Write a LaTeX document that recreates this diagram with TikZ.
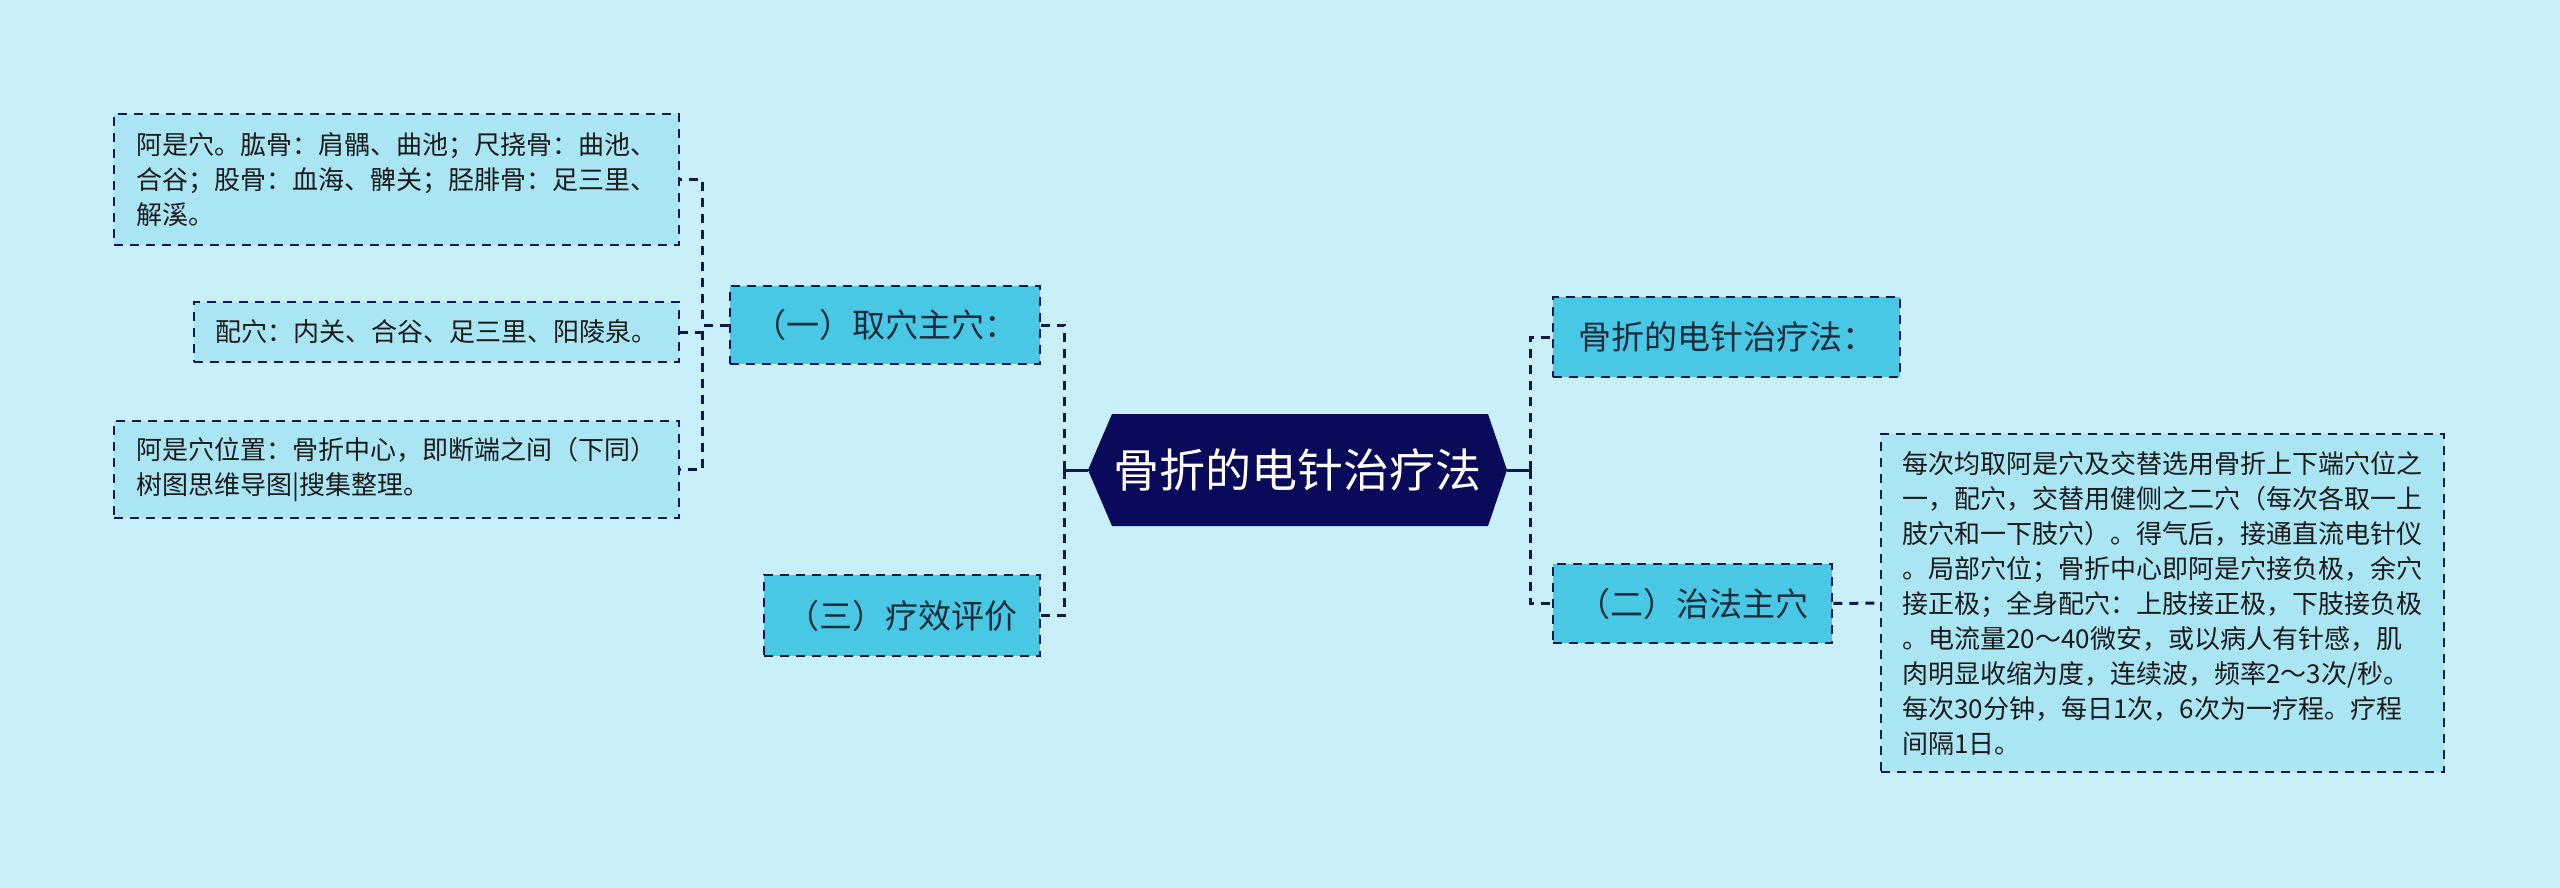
\documentclass[tikz,border=0pt]{standalone}
\usepackage{fontspec}
\setmainfont{Noto Sans CJK SC}
\definecolor{bgC}{HTML}{C9F0F8}
\definecolor{leafC}{HTML}{AAE5F3}
\definecolor{branchC}{HTML}{48C8E4}
\definecolor{rootC}{HTML}{0A0A5A}
\definecolor{lineC}{HTML}{0E1A4E}
\definecolor{leafT}{HTML}{1A1A1A}
\definecolor{branchT}{HTML}{1C2B3A}
\begin{document}
\begin{tikzpicture}[x=1pt,y=-1pt,
 conn/.style={draw=lineC, line width=3pt, dash pattern=on 9pt off 7pt},
 stub/.style={draw=lineC, line width=3pt},
 leaf/.style={draw=lineC, line width=2.5pt, dash pattern=on 9pt off 7pt, fill=leafC,
   font=\fontsize{26}{35}\selectfont, text=leafT, align=left, inner sep=0pt},
 branch/.style={draw=lineC, line width=2.5pt, dash pattern=on 9pt off 7pt, fill=branchC,
   font=\fontsize{33}{40}\selectfont, text=branchT, inner sep=0pt},
 rootnode/.style={font=\fontsize{46}{56}\selectfont, text=white, inner sep=0pt}
]
\fill[bgC] (0,0) rectangle (2560,888);
\useasboundingbox (0,0) rectangle (2560,888);

% root hexagon
\fill[rootC] (1088,470) -- (1112,414) -- (1488,414) -- (1507,470) -- (1488,526) -- (1112,526) -- cycle;
\node[rootnode, minimum width=419pt, minimum height=112pt] (root) at (1297.5,470) {骨折的电针治疗法};

% left branches
\node[branch, minimum width=310pt, minimum height=78pt] (b1) at (885,325) {（一）取穴主穴：};
\node[branch, minimum width=276pt, minimum height=81pt] (b3) at (902,615.5) {（三）疗效评价};

% left leaves
\node[leaf, minimum width=565pt, minimum height=131pt] (l1) at (396.5,179.5)
 {阿是穴。肱骨：肩髃、曲池；尺挠骨：曲池、\\合谷；股骨：血海、髀关；胫腓骨：足三里、\\解溪。};
\node[leaf, minimum width=485pt, minimum height=60pt] (l2) at (436.5,332)
 {配穴：内关、合谷、足三里、阳陵泉。};
\node[leaf, minimum width=565pt, minimum height=97pt] (l3) at (396.5,469.5)
 {阿是穴位置：骨折中心，即断端之间（下同）\\树图思维导图|搜集整理。};

% right branches
\node[branch, minimum width=347pt, minimum height=80pt] (r1) at (1726.5,337) {骨折的电针治疗法：};
\node[branch, minimum width=279pt, minimum height=79pt] (r2) at (1692.5,603.5) {（二）治法主穴};

% right leaf
\node[leaf, minimum width=563pt, minimum height=338pt] (lr) at (2162.5,603)
 {每次均取阿是穴及交替选用骨折上下端穴位之\\一，配穴，交替用健侧之二穴（每次各取一上\\肢穴和一下肢穴）。得气后，接通直流电针仪\\。局部穴位；骨折中心即阿是穴接负极，余穴\\接正极；全身配穴：上肢接正极，下肢接负极\\。电流量20～40微安，或以病人有针感，肌\\肉明显收缩为度，连续波，频率2～3次/秒。\\每次30分钟，每日1次，6次为一疗程。疗程\\间隔1日。};

% connectors
\coordinate (jl) at ([xshift=-23pt]root.west);
\coordinate (jr) at ([xshift=23pt]root.east);
\draw[stub] (root.west) -- (jl);
\draw[stub] (root.east) -- (jr);
\draw[conn] (jl) |- (b1.east);
\draw[conn] (jl) |- (b3.east);
\draw[conn] (b1.west) -- ++(-26,0) |- (l1.east);
\draw[conn] (b1.west) -- ++(-26,0) |- (l2.east);
\draw[conn] (b1.west) -- ++(-26,0) |- (l3.east);
\draw[conn] (jr) |- (r1.west);
\draw[conn] (jr) |- (r2.west);
\draw[conn] (r2.east) -- (lr.west);
\end{tikzpicture}
\end{document}
